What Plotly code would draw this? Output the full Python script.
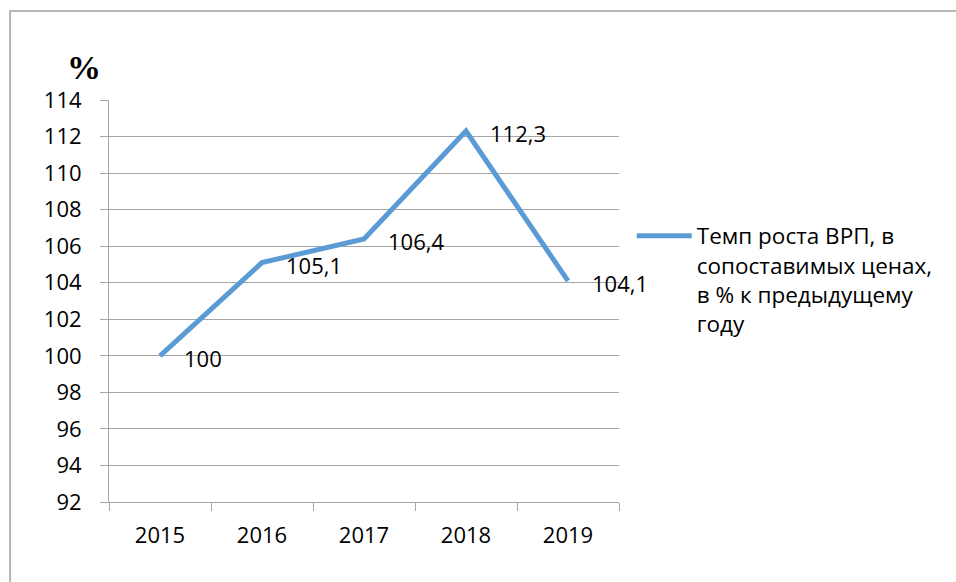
import plotly.graph_objects as go

# Темп роста ВРП по годам
years = ["2015", "2016", "2017", "2018", "2019"]
growth = [100, 105.1, 106.4, 112.3, 104.1]
series_name = "Темп роста ВРП, в<br>сопоставимых ценах,<br>в % к предыдущему<br>году"
y_ticks = list(range(92, 115, 2))

FONT = "Open Sans"
LINE_COLOR = "#5B9BD5"
GRID = "#A6A6A6"


def fmt(v):
    s = f"{v:g}"
    return s.replace(".", ",")


fig = go.Figure()
fig.add_trace(go.Scatter(
    x=years, y=growth, mode="lines", name=series_name,
    line=dict(color=LINE_COLOR, width=5),
))

# value labels to the right of each point (x given as category index)
for i, v in enumerate(growth):
    fig.add_annotation(
        x=i, y=v, text=fmt(v), showarrow=False,
        xanchor="left", yanchor="middle", xshift=22, yshift=-2,
        font=dict(family=FONT, size=22, color="#000000"),
    )

# "%" caption above the value axis
fig.add_annotation(
    x=-0.05, y=1.08, xref="paper", yref="paper", text="<b>%</b>",
    showarrow=False, xanchor="center", yanchor="middle",
    font=dict(family="Liberation Serif", size=34, color="#000000"),
)

# outer chart frame (top and left edges)
fig.add_shape(
    type="rect", xref="paper", yref="paper",
    x0=-0.194, x1=2.0, y0=-1.0, y1=1.2214,
    line=dict(color="#A0A0A0", width=1.5), layer="below",
)

fig.update_layout(
    width=956, height=582,
    margin=dict(l=109, r=337, t=100, b=80),
    paper_bgcolor="white", plot_bgcolor="white",
    font=dict(family=FONT, size=22, color="#000000"),
    separators=", ",
    showlegend=True,
    legend=dict(
        x=1.025, y=0.715, xanchor="left", yanchor="top",
        valign="top", font=dict(family=FONT, size=22.5),
        bgcolor="rgba(0,0,0,0)", itemwidth=55,
    ),
    xaxis=dict(
        type="category", range=[-0.5, 4.5],
        showgrid=False, showline=True, linecolor=GRID, linewidth=1,
        ticks="outside", tickson="boundaries", ticklen=8, tickcolor=GRID,
        ticklabelstandoff=14,
        tickfont=dict(family=FONT, size=22),
    ),
    yaxis=dict(
        range=[92, 114], tickvals=y_ticks,
        showgrid=True, gridcolor=GRID, gridwidth=1,
        showline=True, linecolor=GRID, linewidth=1,
        ticks="outside", ticklen=8, tickcolor=GRID,
        ticklabelstandoff=14, zeroline=False,
        tickfont=dict(family=FONT, size=22),
    ),
)

fig.write_html("out.html")
